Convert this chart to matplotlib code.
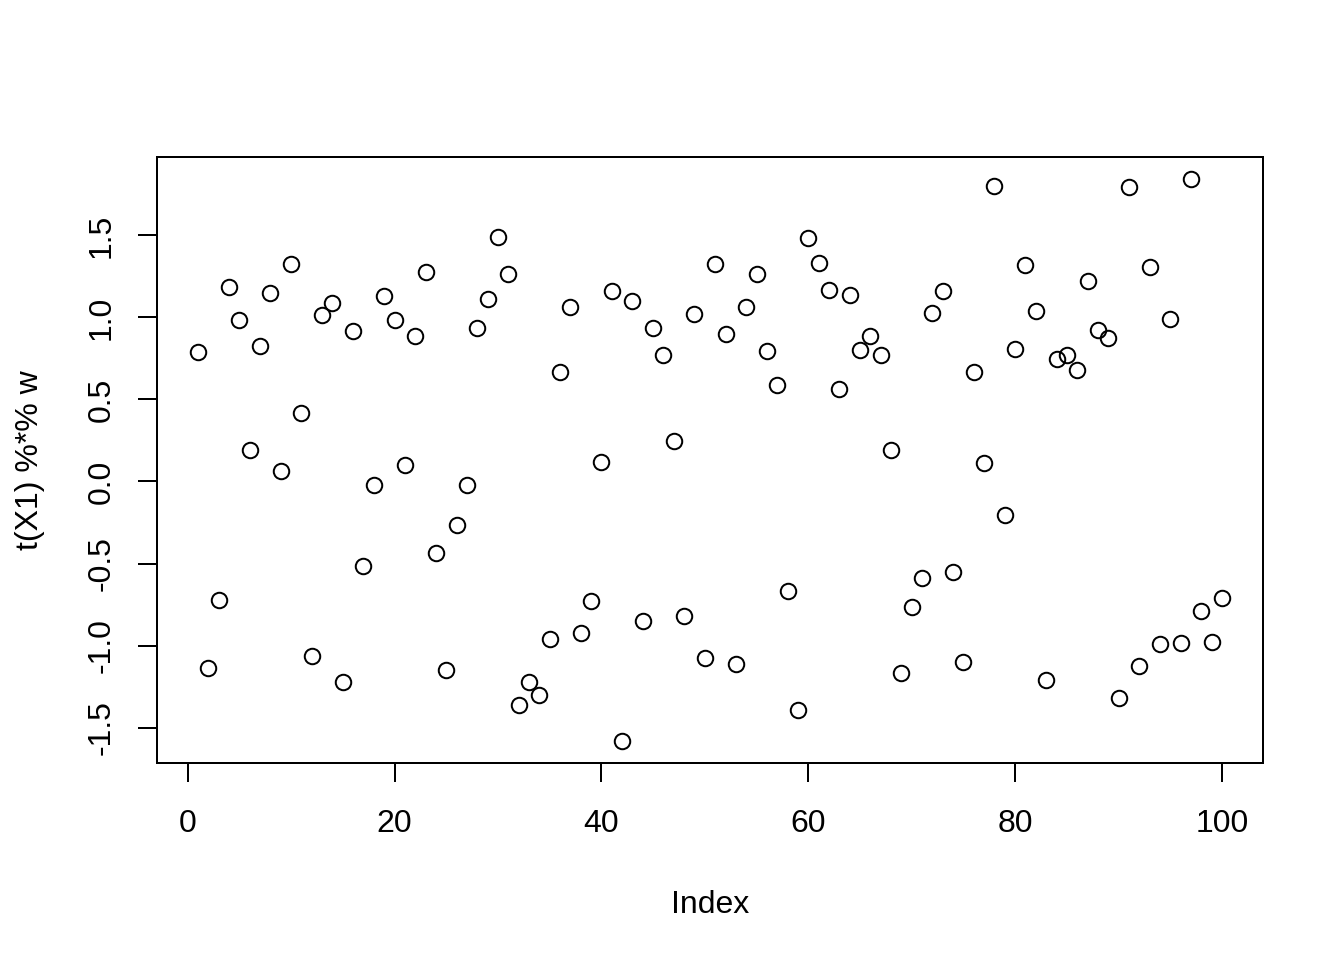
import matplotlib
matplotlib.use("Agg")
import matplotlib.pyplot as plt
import numpy as np

values = [0.787, -1.134, -0.720, 1.183, 0.982, 0.189, 0.823, 1.146, 0.061, 1.323,
          0.415, -1.061, 1.012, 1.085, -1.220, 0.915, -0.518, -0.024, 1.128, 0.982,
          0.098, 0.884, 1.274, -0.433, -1.146, -0.268, -0.024, 0.933, 1.110, 1.488,
          1.262, -1.360, -1.220, -1.299, -0.957, 0.665, 1.061, -0.921, -0.726, 0.116,
          1.159, -1.579, 1.098, -0.848, 0.933, 0.774, 0.244, -0.817, 1.018, -1.073,
          1.323, 0.902, -1.110, 1.061, 1.262, 0.793, 0.591, -0.665, -1.390, 1.482,
          1.329, 1.165, 0.561, 1.134, 0.799, 0.884, 0.774, 0.189, -1.165, -0.768,
          -0.591, 1.030, 1.159, -0.549, -1.098, 0.665, 0.110, 1.799, -0.207, 0.805,
          1.317, 1.037, -1.207, 0.744, 0.774, 0.677, 1.220, 0.921, 0.872, -1.317,
          1.793, -1.122, 1.305, -0.988, 0.988, -0.982, 1.841, -0.787, -0.976, -0.713]
index = list(range(1, len(values) + 1))
xticks = [0, 20, 40, 60, 80, 100]
yticks = [-1.5, -1.0, -0.5, 0.0, 0.5, 1.0, 1.5]
ytick_labels = ["-1.5", "-1.0", "-0.5", "0.0", "0.5", "1.0", "1.5"]

plt.rcParams['font.family'] = ['Liberation Sans', 'DejaVu Sans']
plt.rcParams['axes.unicode_minus'] = False

fig = plt.figure(figsize=(7, 5), dpi=192)
ax = fig.add_axes([157/1344, 1 - 763/960, (1263-157)/1344, (763-157)/960])

ax.plot(index, values, linestyle='none', marker='o', markersize=5.8,
        markerfacecolor='none', markeredgecolor='black', markeredgewidth=0.75)

xr = max(index) - min(index)
ax.set_xlim(min(index) - 0.04*xr, max(index) + 0.04*xr)
yr = max(values) - min(values)
ax.set_ylim(min(values) - 0.04*yr, max(values) + 0.04*yr)

ax.set_xticks(xticks)
ax.set_xticklabels([str(t) for t in xticks])
ax.set_yticks(yticks)
ax.set_yticklabels(ytick_labels, rotation=90, va='center')

for s in ax.spines.values():
    s.set_linewidth(0.75)
ax.tick_params(axis='both', direction='out', length=7.2, width=0.75, labelsize=12, colors='black')
ax.tick_params(axis='x', pad=10)
ax.tick_params(axis='y', pad=8)

ax.set_xlabel("Index", fontsize=12, labelpad=19)
ax.set_ylabel("t(X1) %*% w", fontsize=12, labelpad=15.5)

fig.savefig("out.png", dpi=192)
